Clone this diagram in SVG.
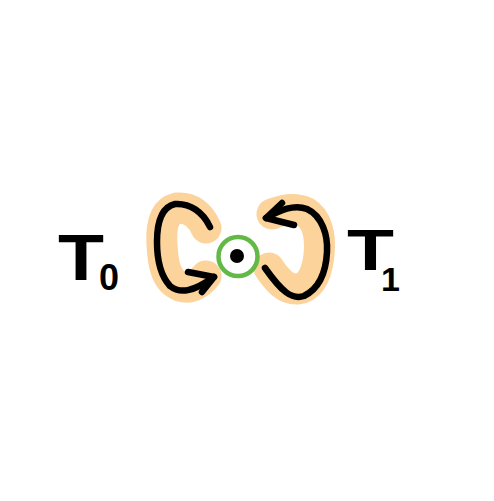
<svg xmlns="http://www.w3.org/2000/svg" width="494" height="501" viewBox="0 0 494 501">
<style>
.halo{fill:none;stroke:#fcd39b;stroke-width:31;stroke-linecap:round;stroke-linejoin:round}
.ink{fill:none;stroke:#000;stroke-width:6.5;stroke-linecap:round;stroke-linejoin:round}
.lbl{font-family:"Liberation Sans",Arial,sans-serif;font-weight:bold;fill:#000}
</style>
<rect width="494" height="501" fill="#fff"/>
<g id="halos">
<path class="halo" d="M206,228 C200,214 190,207 177,208 C162,212 161,230 162,245 C163,262 165,280 180,286 C192,290 200,283 206,276"/>
<path class="halo" d="M272,214 C282,210 293,207 305,212 C317,219 321,235 319,255 C317,273 311,287 298,289 C286,290 277,280 269,268"/>
</g>
<g id="connectors">
<path class="ink" d="M210,227 C203,212 190,203 175,204 C162,207 157,222 157,242 C157,258 160,275 170,286 C180,294 193,292 214,277"/>
<path class="ink" d="M188,272 L214,277 L202,292"/>
<path class="ink" d="M266,218 C280,210 294,204 307,209 C322,216 328,235 327,252 C326,272 320,288 304,296 C292,300 282,292 265,268"/>
<path class="ink" d="M282,203 L266,218 L294,225"/>
</g>
<g id="center">
<circle cx="238" cy="256.5" r="19.5" fill="#fff" stroke="#63b946" stroke-width="4.5"/>
<circle cx="237" cy="256" r="7" fill="#000"/>
</g>
<g id="T0">
<text class="lbl" x="58" y="280" font-size="64" textLength="46" lengthAdjust="spacingAndGlyphs">T</text>
<text class="lbl" x="99" y="290" font-size="36">0</text>
</g>
<g id="T1">
<text class="lbl" x="347" y="270" font-size="58" textLength="47" lengthAdjust="spacingAndGlyphs">T</text>
<text class="lbl" x="381" y="291" font-size="34">1</text>
</g>
</svg>
